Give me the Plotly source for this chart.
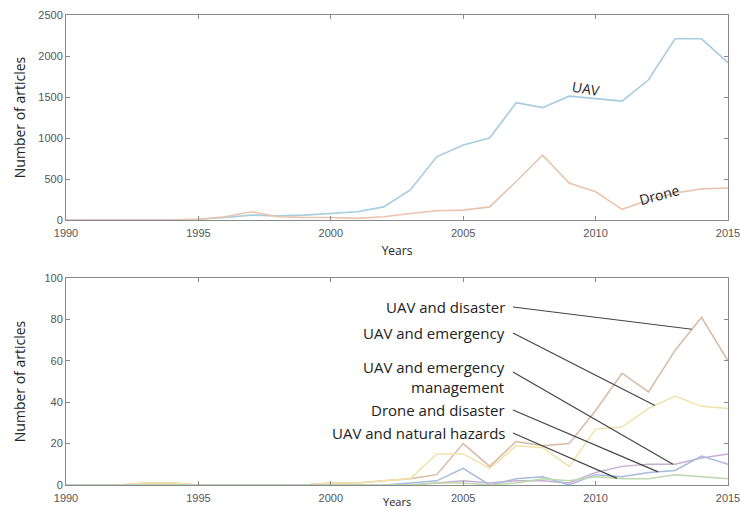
import numpy as np
import plotly.graph_objects as go

years = list(range(1990, 2016))
year_ticks = [1990, 1995, 2000, 2005, 2010, 2015]

# Top panel: total articles
uav = [0, 0, 0, 0, 0, 10, 30, 60, 50, 60, 80, 100, 160, 366, 770, 915, 1000, 1430, 1370, 1510, 1480, 1450, 1710, 2210, 2210, 1920]
drone = [0, 0, 0, 0, 0, 10, 40, 100, 40, 30, 30, 20, 40, 80, 113, 120, 160, 470, 790, 450, 345, 130, 245, 330, 380, 390]

# Bottom panel: combined keywords
uav_disaster = [0, 0, 0, 1, 1, 0, 0, 0, 0, 0, 1, 1, 2, 3, 5, 20, 9, 21, 19, 20, 36, 54, 45, 65, 81, 60]
uav_emergency = [0, 0, 0, 1, 1, 0, 0, 0, 0, 0, 1, 1, 2, 3, 15, 15, 8, 19, 18, 9, 27, 28, 37, 43, 38, 37]
uav_em_mgmt = [0, 0, 0, 0, 0, 0, 0, 0, 0, 0, 0, 0, 0, 0, 1, 2, 1, 2, 2, 1, 6, 9, 10, 10, 13, 15]
drone_disaster = [0, 0, 0, 0, 0, 0, 0, 0, 0, 0, 0, 0, 0, 1, 2, 8, 0, 3, 4, 0, 5, 4, 6, 7, 14, 10]
uav_hazards = [0, 0, 0, 0, 0, 0, 0, 0, 0, 0, 0, 0, 0, 0, 1, 1, 0, 1, 3, 2, 4, 3, 3, 5, 4, 3]

bottom_series = [
    ("UAV and disaster", uav_disaster, "#d9b9a3"),
    ("UAV and emergency", uav_emergency, "#f1e2a8"),
    ("UAV and emergency<br>management", uav_em_mgmt, "#c9aed3"),
    ("Drone and disaster", drone_disaster, "#a7bcdc"),
    ("UAV and natural hazards", uav_hazards, "#bfd9ae"),
]
# leader end x positions (years) along each series
leader_x = [2013.64, 2012.24, 2012.92, 2012.36, 2010.81]
label_y = [86, 73.4, 52.2, 36.2, 25.1]
leader_y0 = [86, 73.4, 54.6, 36.2, 25.1]

fig = go.Figure()
fig.add_trace(go.Scatter(x=years, y=uav, mode="lines", line=dict(color="#a6cde0", width=1.6),
                         xaxis="x", yaxis="y", showlegend=False))
fig.add_trace(go.Scatter(x=years, y=drone, mode="lines", line=dict(color="#ebc4ae", width=1.6),
                         xaxis="x", yaxis="y", showlegend=False))
for name, vals, col in bottom_series:
    fig.add_trace(go.Scatter(x=years, y=vals, mode="lines", line=dict(color=col, width=1.5),
                             xaxis="x2", yaxis="y2", showlegend=False))

W, H = 740, 510
x_dom = [66 / W, 728 / W]
axis_common = dict(
    showline=True, linecolor="#8a8a8a", linewidth=1, mirror="allticks",
    ticks="inside", ticklen=4, tickcolor="#8a8a8a", showgrid=False, zeroline=False,
    tickfont=dict(family="Liberation Sans", size=11, color="#555"),
    automargin=False, ticklabeloverflow="allow",
)
title_font = dict(family="Open Sans", size=14, color="#222")
fig.update_layout(
    width=W, height=H, margin=dict(l=0, r=0, t=0, b=0),
    plot_bgcolor="white", paper_bgcolor="white",
    xaxis=dict(domain=x_dom, range=[1990, 2015], tickvals=year_ticks, anchor="y",
               ticklabelstandoff=3,
               title=dict(text="Years", font=dict(family="Open Sans", size=12, color="#222"), standoff=8),
               **axis_common),
    yaxis=dict(domain=[(H - 220) / H, (H - 15) / H], range=[0, 2500], dtick=500, anchor="x",
               title=dict(text="Number of articles", font=title_font, standoff=9),
               **axis_common),
    xaxis2=dict(domain=x_dom, range=[1990, 2015], tickvals=year_ticks, anchor="y2",
                ticklabelstandoff=3, **axis_common),
    yaxis2=dict(domain=[(H - 485) / H, (H - 278) / H], range=[0, 100], dtick=20, anchor="x2",
                title=dict(text="Number of articles", font=title_font, standoff=15),
                **axis_common),
)

# bottom x-axis title, placed at the very bottom edge of the page
fig.add_annotation(x=0.5, xref="x2 domain", y=0, yref="paper", yanchor="bottom",
                   text="Years", showarrow=False, borderpad=0,
                   font=dict(family="Open Sans", size=11, color="#222"))

fig.add_annotation(x=2009.64, y=1598, xref="x", yref="y", text="UAV", showarrow=False,
                   textangle=10, font=dict(family="Open Sans", size=14, color="#222"))
fig.add_annotation(x=2012.43, y=305, xref="x", yref="y", text="Drone", showarrow=False,
                   textangle=-15, font=dict(family="Open Sans", size=14, color="#222"))

for (name, vals, col), lx, ly, ly0 in zip(bottom_series, leader_x, label_y, leader_y0):
    fig.add_annotation(x=2006.65, y=ly, xref="x2", yref="y2", text=name, showarrow=False,
                       xanchor="right", align="right",
                       font=dict(family="Open Sans", size=15, color="#222"))
    ey = float(np.interp(lx, years, vals))
    fig.add_shape(type="line", xref="x2", yref="y2", x0=2006.88, y0=ly0, x1=lx, y1=ey,
                  line=dict(color="#444", width=1.2))

fig.write_html("out.html")
